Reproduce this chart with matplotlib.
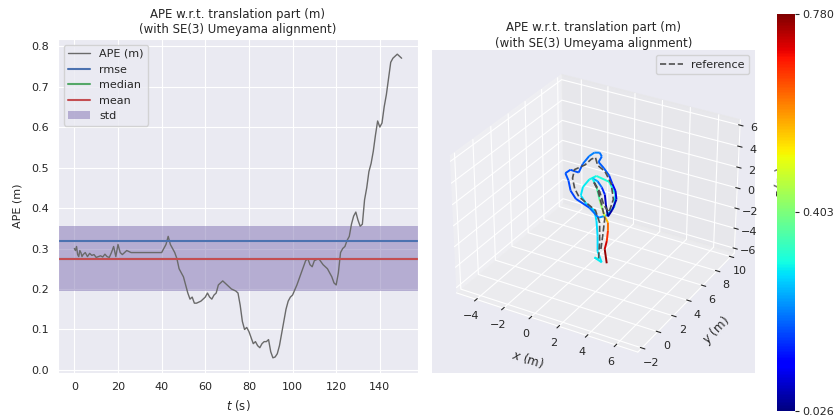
import numpy as np
import matplotlib
matplotlib.use("Agg")
import matplotlib.pyplot as plt
import seaborn as sns
from mpl_toolkits.mplot3d.art3d import Line3DCollection
from matplotlib.cm import ScalarMappable
from matplotlib.colors import Normalize

# ---------------- data ----------------
t_s = [0, 0.5, 1, 1.5, 2, 2.5, 3, 3.5, 4, 5, 6, 7, 8, 9, 10, 11, 12, 13, 14, 15, 16, 17, 18, 19, 20,
       21, 22, 24, 26, 30, 35, 40, 41, 42, 43, 44, 45, 46, 47, 48, 49, 50, 51, 52, 53, 54, 55, 56,
       58, 60, 61, 62, 63, 64, 65, 66, 67, 68, 70, 72, 74, 75, 76, 77, 78, 79, 80, 81, 82, 83, 84,
       85, 86, 87, 88, 89, 90, 91, 92, 93, 94, 95, 96, 97, 98, 99, 100, 102, 104, 106, 107, 108,
       109, 110, 112, 114, 116, 118, 119, 120, 121, 122, 123, 124, 125, 126, 127, 128, 129, 130,
       131, 132, 133, 134, 135, 136, 137, 138, 139, 140, 141, 142, 143, 144, 145, 146, 147, 148,
       149, 150]
ape_m = [0.300, 0.295, 0.305, 0.285, 0.280, 0.295, 0.290, 0.280, 0.285, 0.290, 0.280, 0.288, 0.283,
         0.285, 0.278, 0.280, 0.282, 0.279, 0.286, 0.280, 0.278, 0.290, 0.305, 0.280, 0.310,
         0.290, 0.285, 0.295, 0.290, 0.290, 0.290, 0.290, 0.300, 0.310, 0.330, 0.310, 0.300,
         0.290, 0.275, 0.250, 0.240, 0.230, 0.210, 0.190, 0.175, 0.180, 0.165, 0.165,
         0.170, 0.180, 0.190, 0.180, 0.175, 0.185, 0.190, 0.210, 0.215, 0.220, 0.210, 0.200, 0.195,
         0.190, 0.160, 0.120, 0.100, 0.105, 0.095, 0.080, 0.065, 0.070, 0.060,
         0.055, 0.065, 0.070, 0.070, 0.075, 0.045, 0.030, 0.032, 0.040, 0.060, 0.090, 0.120,
         0.150, 0.170, 0.180, 0.185, 0.210, 0.240, 0.270, 0.275, 0.260,
         0.255, 0.270, 0.275, 0.260, 0.250, 0.230, 0.215, 0.210, 0.240, 0.290, 0.300, 0.305,
         0.320, 0.330, 0.360, 0.380, 0.390, 0.370,
         0.355, 0.360, 0.420, 0.450, 0.490, 0.510, 0.540, 0.580, 0.615, 0.600, 0.610, 0.650,
         0.680, 0.720, 0.760, 0.770, 0.775, 0.780, 0.775, 0.770]

stat_rmse = 0.319
stat_median = 0.274
stat_mean = 0.275
stat_std = 0.080

# estimated trajectory (x, y, z in m) and the APE along it
traj_x = [1.05, 0.75, 1.28, 0.98, 0.98, 0.90, 0.75, 0.15, -0.23, -0.08, 0.38, 0.90, 1.80, 2.26,
          2.18, 1.65,
          1.05, 0.38, -0.60, -0.98, -1.13, -1.35, -0.98, -0.38, -0.08, 0.38, 0.75, 1.13, 1.28,
          1.05, 1.43, 1.80,
          2.03, 2.26, 2.33, 2.03, 1.73, 1.58,
          1.50, 1.28, 0.98, 0.60,
          0.90, 1.13, 1.35,
          1.50, 1.73,
          1.73, 1.65, 1.50, 1.65]
traj_y = [4.0, 4.0, 4.0, 4.0, 4.0, 4.0, 4.0, 4.0, 4.0, 4.0, 4.0, 4.0, 4.0, 4.0,
          4.0, 4.0,
          4.0, 4.0, 4.0, 4.0, 4.0, 4.0, 4.0, 4.0, 4.0, 4.0, 4.0, 4.0, 4.0,
          4.0, 4.0, 4.0,
          4.0, 4.0, 4.0, 4.0, 4.0, 4.0,
          4.0, 4.0, 4.0, 4.0,
          4.0, 4.0, 4.0,
          4.0, 4.0,
          4.0, 4.0, 4.0, 4.0]
traj_z = [-5.15, -5.08, -5.35, -4.38, -2.88, -1.41, -0.48, -0.04, 0.60, 1.47, 2.36, 2.89, 2.67, 1.67,
          0.44, -0.59,
          -1.05, -0.34, 0.14, 0.78, 1.71, 2.32, 2.78, 2.74, 3.67, 4.56, 5.02, 5.15, 4.85,
          4.25, 3.81, 3.27,
          2.57, 1.97, 1.20, 0.07, -0.66, 0.38,
          1.35, 1.95, 2.42, 2.56,
          1.89, 0.69, -0.22,
          -0.75, -1.26,
          -2.06, -3.09, -3.95, -5.29]
traj_ape = [0.30, 0.30, 0.29, 0.29, 0.28, 0.29, 0.28, 0.28, 0.29, 0.29, 0.30, 0.31, 0.33, 0.30,
            0.27, 0.24,
            0.22, 0.18, 0.17, 0.17, 0.18, 0.19, 0.18, 0.18, 0.19, 0.21, 0.22, 0.21, 0.20,
            0.19, 0.19, 0.19,
            0.12, 0.09, 0.07, 0.06, 0.04, 0.03,
            0.12, 0.18, 0.22, 0.27,
            0.33, 0.39, 0.45,
            0.52, 0.60,
            0.65, 0.70, 0.75, 0.78]

# reference trajectory
ref_x = [1.05, 1.13, 1.13, 0.83, 0.23, -0.38, -0.68, -0.83, -0.68, 0.08, 0.53, 0.83, 0.98,
         1.50, 1.95, 2.11, 1.80, 1.43, 1.13, 0.68, 0.98, 1.28, 1.50, 1.35, 1.20]
ref_y = [4.0, 4.0, 4.0, 4.0, 4.0, 4.0, 4.0, 4.0, 4.0, 4.0, 4.0, 4.0, 4.0,
         4.0, 4.0, 4.0, 4.0, 4.0, 4.0, 4.0, 4.0, 4.0, 4.0, 4.0, 4.0]
ref_z = [-5.05, -3.31, -1.51, -0.44, 0.00, 0.44, 1.11, 2.04, 2.91, 3.63, 4.33, 4.60, 3.92,
         3.55, 2.54, 1.11, -0.23, 0.31, 1.49, 2.29, 1.62, 0.25, -0.95, -2.72, -4.28]

ape_min, ape_max = 0.026, 0.780
cbar_ticks = [0.026, 0.403, 0.780]

# ---------------- style ----------------
sns.set_style("darkgrid")
plt.rcParams['font.family'] = ['DejaVu Sans']
pal = sns.color_palette("deep")

fig = plt.figure(figsize=(8.37, 4.19), dpi=100)
W, H = 837.0, 419.0

# ---------------- left: APE over time ----------------
ax = fig.add_axes([58 / W, 1 - 373 / H, (418 - 58) / W, (373 - 39) / H])
ax.plot(t_s, ape_m, color="#6a6a6a", lw=1.0, label="APE (m)")
ax.axhline(stat_rmse, color=pal[0], lw=1.5, label="rmse")
ax.axhline(stat_median, color=pal[2], lw=1.5, label="median")
ax.axhline(stat_mean, color=pal[3], lw=1.5, label="mean")
ax.axhspan(stat_mean - stat_std, stat_mean + stat_std, color=pal[4], alpha=0.5, lw=0, label="std")
ax.set_ylabel("APE (m)", fontsize=8, labelpad=6)
ax.set_xlabel("$t$ (s)", fontsize=8.5)
ax.tick_params(labelsize=8, pad=3)
ax.set_xticks([0, 20, 40, 60, 80, 100, 120, 140])
ax.set_title("APE w.r.t. translation part (m)\n(with SE(3) Umeyama alignment)", fontsize=8.5, pad=4)
ax.legend(loc="upper left", fontsize=8, frameon=True)

# ---------------- right: 3D trajectory ----------------
ax3 = fig.add_axes([432 / W, 1 - 373 / H, (755 - 432) / W, (373 - 49) / H], projection="3d")
ax3.set_facecolor("#EAEAF2")
ax3.plot(ref_x, ref_y, ref_z, ls="--", color="#505050", lw=1.2, label="reference")
pts = np.column_stack([traj_x, traj_y, traj_z])
segs = np.stack([pts[:-1], pts[1:]], axis=1)
norm = Normalize(vmin=ape_min, vmax=ape_max)
seg_vals = 0.5 * (np.array(traj_ape[:-1]) + np.array(traj_ape[1:]))
lc = Line3DCollection(segs, cmap="jet", norm=norm, linewidths=1.4)
lc.set_array(seg_vals)
ax3.add_collection3d(lc)
ax3.set_xlim(-5.5, 7.5)
ax3.set_ylim(-2.5, 10.5)
ax3.set_zlim(-6.5, 6.5)
ax3.view_init(elev=30, azim=-60)
ax3.set_xlabel("$x$ (m)", fontsize=8.5, labelpad=-2)
ax3.set_ylabel("$y$ (m)", fontsize=8.5, labelpad=-2)
ax3.set_zlabel("$z$ (m)", fontsize=8.5, labelpad=-2)
ax3.tick_params(labelsize=8, pad=-2)
ax3.set_title("APE w.r.t. translation part (m)\n(with SE(3) Umeyama alignment)", fontsize=8.5, pad=0)
ax3.legend(loc="upper right", fontsize=8)

# ---------------- colorbar ----------------
cax = fig.add_axes([777 / W, 1 - 411 / H, 18 / W, (411 - 14) / H])
sm = ScalarMappable(norm=norm, cmap="jet")
cb = fig.colorbar(sm, cax=cax, ticks=cbar_ticks)
cb.ax.set_yticklabels(["{:.3f}".format(v) for v in cbar_ticks])
cb.ax.tick_params(labelsize=8, length=3, pad=2)
cb.outline.set_visible(False)

fig.savefig("out.png", dpi=100, facecolor="white")
